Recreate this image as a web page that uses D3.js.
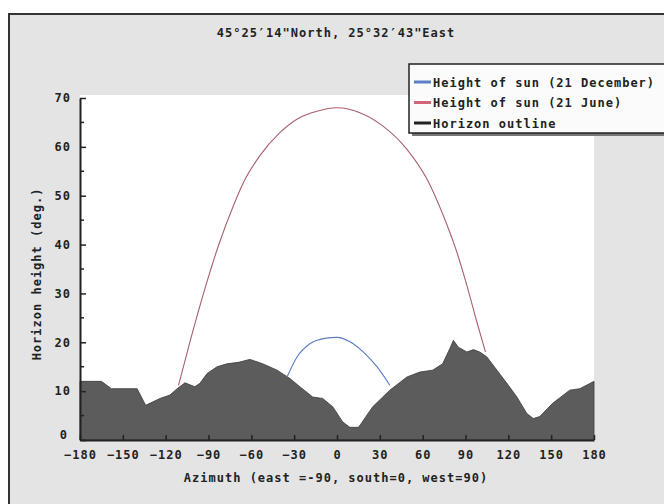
<!DOCTYPE html>
<html>
<head>
<meta charset="utf-8">
<script src="https://cdn.jsdelivr.net/npm/d3@7"></script>
<style>
  body { margin: 0; background: #fff; }
  text { font-family: "DejaVu Sans Mono", monospace; font-weight: bold; fill: #222; }
</style>
</head>
<body>
<div id="chart"></div>
<script>
// Chart size and plot box
const WIDTH = 664;
const HEIGHT = 504;
const PLOT = { left: 80, right: 594, top: 98, bottom: 440 };

// Data
const TITLE = "45°25′14\"North, 25°32′43\"East";
const xTicks = [-180, -150, -120, -90, -60, -30, 0, 30, 60, 90, 120, 150, 180];
const yTicks = [0, 10, 20, 30, 40, 50, 60, 70];

const horizonAz = [-180, -165, -158, -140, -134, -124, -117, -112, -106.5, -99.5, -96, -91, -84, -77, -69, -61, -52, -42, -33, -26, -17, -10, -3, 4, 9, 15, 17, 25, 37, 49, 58, 67, 74, 79, 81.5, 85, 91, 95.5, 100, 105, 112, 119, 126, 133, 137.5, 142, 151, 163, 170, 180];
const horizonH = [12, 12, 10.5, 10.5, 7.1, 8.5, 9.2, 10.5, 11.7, 10.9, 11.6, 13.6, 15, 15.6, 15.9, 16.5, 15.6, 14.3, 12.6, 10.9, 8.8, 8.5, 6.8, 3.7, 2.6, 2.6, 3.4, 6.8, 10.2, 12.9, 13.9, 14.3, 15.6, 18.7, 20.4, 19, 18, 18.5, 18, 17, 14.3, 11.6, 8.8, 5.4, 4.4, 4.8, 7.5, 10.2, 10.5, 12];

const juneAz = [-111, -103, -92.5, -83, -72.5, -65.5, -54, -40, -26, -14, 0, 16, 32, 49, 63, 74.5, 84, 91, 98, 104];
const juneH = [11.2, 20.1, 31, 39.8, 48, 52.7, 58.2, 62.9, 66, 67.3, 68, 67, 64.3, 59.5, 53.4, 45.9, 38.4, 31.6, 24.1, 18];

const decAz = [-35, -28, -19, -8.5, 0, 9, 18.5, 28, 37];
const decH = [12.9, 17, 19.7, 20.8, 21, 20.1, 18, 15, 11.2];

const legendNames = ["Height of sun (21 December)", "Height of sun (21 June)", "Horizon outline"];
const legendColors = ["#5b82c8", "#d26478", "#222"];

let svg = d3.select("#chart").append("svg").attr("width", WIDTH).attr("height", HEIGHT);

// Frame and background
svg.append("rect").attr("x", 9).attr("y", 14).attr("width", 700).attr("height", 520)
   .attr("fill", "#e4e4e4").attr("stroke", "#333").attr("stroke-width", 2);

svg.append("text").attr("x", 336).attr("y", 37).attr("text-anchor", "middle")
   .style("font-size", "12px").style("letter-spacing", "1px").text(TITLE);

// Scales
let xScale = d3.scaleLinear().domain([-180, 180]).range([PLOT.left, PLOT.right]);
let yScale = d3.scaleLinear().domain([0, 70]).range([PLOT.bottom, PLOT.top]);

// white plot area
svg.append("rect").attr("x", PLOT.left).attr("y", PLOT.top - 3)
   .attr("width", PLOT.right - PLOT.left).attr("height", PLOT.bottom - PLOT.top + 3)
   .attr("fill", "#fff");

// Horizon area
let horizon = horizonAz.map((a, i) => ({ az: a, h: horizonH[i] }));
let areaGen = d3.area().x(d => xScale(d.az)).y0(yScale(0)).y1(d => yScale(d.h));
svg.append("path").datum(horizon).attr("d", areaGen)
   .attr("fill", "#5c5c5c").attr("stroke", "#3a3a3a").attr("stroke-width", 0.8);

// Sun paths
let lineGen = d3.line().x(d => xScale(d.az)).y(d => yScale(d.h)).curve(d3.curveMonotoneX);
let june = juneAz.map((a, i) => ({ az: a, h: juneH[i] }));
let dec = decAz.map((a, i) => ({ az: a, h: decH[i] }));
svg.append("path").datum(june).attr("d", lineGen).attr("fill", "none")
   .attr("stroke", "#a8606c").attr("stroke-width", 1.1);
svg.append("path").datum(dec).attr("d", lineGen).attr("fill", "none")
   .attr("stroke", "#5b7cc0").attr("stroke-width", 1.1);

// Axes, ticks inside
let xAxis = d3.axisBottom(xScale).tickValues(xTicks).tickSizeInner(-5).tickSizeOuter(0).tickPadding(10);
let gx = svg.append("g").attr("transform", `translate(0, ${PLOT.bottom})`).call(xAxis);
gx.select(".domain").attr("stroke", "#222").attr("stroke-width", 2);
gx.selectAll("line").attr("stroke", "#222").attr("stroke-width", 1.5);
gx.selectAll("text").style("font-size", "12px").style("font-family", "DejaVu Sans Mono")
  .style("letter-spacing", "1px").attr("fill", "#222");

let yAxis = d3.axisLeft(yScale).tickValues(yTicks).tickSizeInner(-6).tickSizeOuter(0).tickPadding(9);
let gy = svg.append("g").attr("transform", `translate(${PLOT.left}, 0)`).call(yAxis);
gy.select(".domain").attr("stroke", "#222").attr("stroke-width", 2);
gy.selectAll("line").attr("stroke", "#222").attr("stroke-width", 1.5);
gy.selectAll("text").style("font-size", "12px").style("font-family", "DejaVu Sans Mono")
  .style("letter-spacing", "1px").attr("fill", "#222");
// zero label sits a bit higher and further left
gy.selectAll(".tick text").filter(d => d == 0).attr("dy", "-0.15em").attr("x", -12);

// minor y ticks
let minor = d3.range(5, 70, 10);
svg.append("g").selectAll("line").data(minor).join("line")
   .attr("x1", PLOT.left).attr("x2", PLOT.left + 4)
   .attr("y1", d => yScale(d)).attr("y2", d => yScale(d))
   .attr("stroke", "#222").attr("stroke-width", 1.5);

// Axis labels
svg.append("text").attr("x", 336).attr("y", 482).attr("text-anchor", "middle")
   .style("font-size", "12px").style("letter-spacing", "1px")
   .text("Azimuth (east =-90, south=0, west=90)");
svg.append("text").attr("transform", "rotate(-90)")
   .attr("x", -274).attr("y", 41).attr("text-anchor", "middle")
   .style("font-size", "12px").style("letter-spacing", "1px")
   .text("Horizon height (deg.)");

// Legend
let legend = svg.append("g");
legend.append("rect").attr("x", 412).attr("y", 67).attr("width", 300).attr("height", 69)
   .attr("fill", "#777");
legend.append("rect").attr("x", 409).attr("y", 64).attr("width", 300).attr("height", 69)
   .attr("fill", "#fbfbfb").attr("stroke", "#222").attr("stroke-width", 1.5);
legendNames.forEach((name, i) => {
  let y = 82 + i * 20.5;
  legend.append("line").attr("x1", 414).attr("x2", 431).attr("y1", y).attr("y2", y)
        .attr("stroke", legendColors[i]).attr("stroke-width", 3);
  legend.append("text").attr("x", 433).attr("y", y + 4.5)
        .style("font-size", "12px").style("letter-spacing", "1px").text(name);
});
</script>
</body>
</html>
